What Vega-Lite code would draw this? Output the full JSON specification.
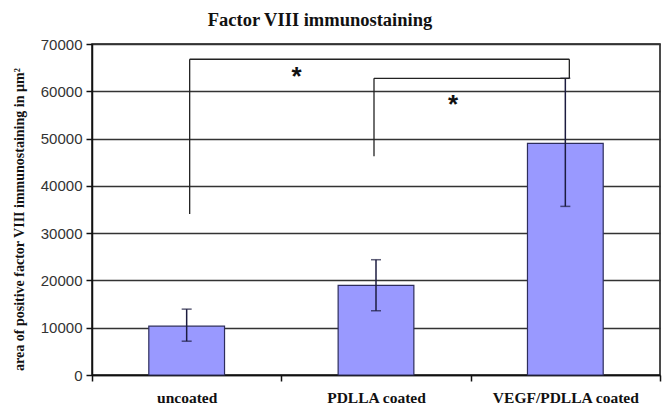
{
  "$schema": "https://vega.github.io/schema/vega-lite/v6.json",
  "width": 568,
  "height": 331,
  "autosize": {"type": "none"},
  "padding": {"left": 92, "top": 44, "right": 2, "bottom": 30},
  "background": "white",
  "config": {
    "view": {"stroke": "#111", "strokeWidth": 1.5},
    "axis": {"domainColor": "#111", "tickColor": "#111", "domainWidth": 1.5, "tickWidth": 1.5}
  },
  "title": {
    "text": "Factor VIII immunostaining",
    "font": "Liberation Serif",
    "fontSize": 18.5,
    "fontWeight": "bold",
    "color": "#111",
    "anchor": "middle",
    "dx": -56,
    "offset": 8
  },
  "datasets": {
    "bars": [
      {"group": "uncoated", "mean": 10330, "lo": 7150, "hi": 13930},
      {"group": "PDLLA coated", "mean": 18940, "lo": 13590, "hi": 24380},
      {"group": "VEGF/PDLLA coated", "mean": 49000, "lo": 35660, "hi": 62750}
    ],
    "leg1": [{"group": "uncoated", "lo": 34070, "hi": 66770}],
    "leg2": [{"group": "VEGF/PDLLA coated", "lo": 62750, "hi": 66770}],
    "leg3": [{"group": "PDLLA coated", "lo": 46240, "hi": 62750}],
    "top1": [{"from": "uncoated", "to": "VEGF/PDLLA coated", "y": 66770}],
    "top2": [{"from": "PDLLA coated", "to": "VEGF/PDLLA coated", "y": 62750}],
    "star1": [{"group": "uncoated", "y": 64060, "label": "*"}],
    "star2": [{"group": "PDLLA coated", "y": 58100, "label": "*"}]
  },
  "layer": [
    {
      "data": {"name": "bars"},
      "mark": {"type": "bar", "fill": "#9999ff", "stroke": "#2e2e5c", "strokeWidth": 1.2, "width": {"band": 0.4}},
      "encoding": {
        "x": {
          "field": "group", "type": "nominal", "sort": null,
          "scale": {"paddingInner": 0, "paddingOuter": 0},
          "axis": {
            "title": null, "labelAngle": 0, "tickBand": "extent", "tickSize": 6,
            "labelFont": "Liberation Serif", "labelFontSize": 15.5, "labelFontWeight": "bold",
            "labelColor": "#111", "labelPadding": 9
          }
        },
        "y": {
          "field": "mean", "type": "quantitative",
          "scale": {"domain": [0, 70000], "nice": false},
          "axis": {
            "values": [0, 10000, 20000, 30000, 40000, 50000, 60000, 70000],
            "format": "d",
            "title": "area of positive factor VIII immunostaining in µm²",
            "titleFont": "Liberation Serif", "titleFontSize": 14, "titleFontWeight": "bold",
            "titleColor": "#111",
            "titleX": -73, "titleY": 175, "titleAngle": -90, "titleAlign": "center", "titleBaseline": "middle",
            "labelFont": "Liberation Sans", "labelFontSize": 15, "labelColor": "#333",
            "labelPadding": 4, "tickSize": 6,
            "grid": true, "gridColor": "#333", "gridWidth": 1.5
          }
        }
      }
    },
    {
      "data": {"name": "bars"},
      "mark": {"type": "rule", "stroke": "#1c1c40", "strokeWidth": 1.5},
      "encoding": {
        "x": {"field": "group", "type": "nominal", "sort": null},
        "y": {"field": "lo", "type": "quantitative"},
        "y2": {"field": "hi"}
      }
    },
    {
      "data": {"name": "bars"},
      "mark": {"type": "tick", "color": "#1c1c40", "size": 10, "thickness": 1.5, "orient": "horizontal"},
      "encoding": {
        "x": {"field": "group", "type": "nominal", "sort": null},
        "y": {"field": "lo", "type": "quantitative"}
      }
    },
    {
      "data": {"name": "bars"},
      "mark": {"type": "tick", "color": "#1c1c40", "size": 10, "thickness": 1.5, "orient": "horizontal"},
      "encoding": {
        "x": {"field": "group", "type": "nominal", "sort": null},
        "y": {"field": "hi", "type": "quantitative"}
      }
    },
    {
      "data": {"name": "leg1"},
      "mark": {"type": "rule", "stroke": "#222", "strokeWidth": 1.3, "xOffset": 3},
      "encoding": {
        "x": {"field": "group", "type": "nominal", "sort": null},
        "y": {"field": "lo", "type": "quantitative"},
        "y2": {"field": "hi"}
      }
    },
    {
      "data": {"name": "leg2"},
      "mark": {"type": "rule", "stroke": "#222", "strokeWidth": 1.3, "xOffset": 4},
      "encoding": {
        "x": {"field": "group", "type": "nominal", "sort": null},
        "y": {"field": "lo", "type": "quantitative"},
        "y2": {"field": "hi"}
      }
    },
    {
      "data": {"name": "leg3"},
      "mark": {"type": "rule", "stroke": "#222", "strokeWidth": 1.3, "xOffset": -2},
      "encoding": {
        "x": {"field": "group", "type": "nominal", "sort": null},
        "y": {"field": "lo", "type": "quantitative"},
        "y2": {"field": "hi"}
      }
    },
    {
      "data": {"name": "top1"},
      "mark": {"type": "rule", "stroke": "#222", "strokeWidth": 1.3, "xOffset": 3, "x2Offset": 4},
      "encoding": {
        "x": {"field": "from", "type": "nominal", "sort": null},
        "x2": {"field": "to"},
        "y": {"field": "y", "type": "quantitative"}
      }
    },
    {
      "data": {"name": "top2"},
      "mark": {"type": "rule", "stroke": "#222", "strokeWidth": 1.3, "xOffset": -2, "x2Offset": 4},
      "encoding": {
        "x": {"field": "from", "type": "nominal", "sort": null},
        "x2": {"field": "to"},
        "y": {"field": "y", "type": "quantitative"}
      }
    },
    {
      "data": {"name": "star1"},
      "mark": {"type": "text", "font": "Liberation Sans", "fontSize": 26, "fontWeight": "bold", "color": "#111", "baseline": "middle", "dx": 110, "dy": 5},
      "encoding": {
        "x": {"field": "group", "type": "nominal", "sort": null},
        "y": {"field": "y", "type": "quantitative"},
        "text": {"field": "label"}
      }
    },
    {
      "data": {"name": "star2"},
      "mark": {"type": "text", "font": "Liberation Sans", "fontSize": 26, "fontWeight": "bold", "color": "#111", "baseline": "middle", "dx": 77, "dy": 5},
      "encoding": {
        "x": {"field": "group", "type": "nominal", "sort": null},
        "y": {"field": "y", "type": "quantitative"},
        "text": {"field": "label"}
      }
    }
  ]
}
